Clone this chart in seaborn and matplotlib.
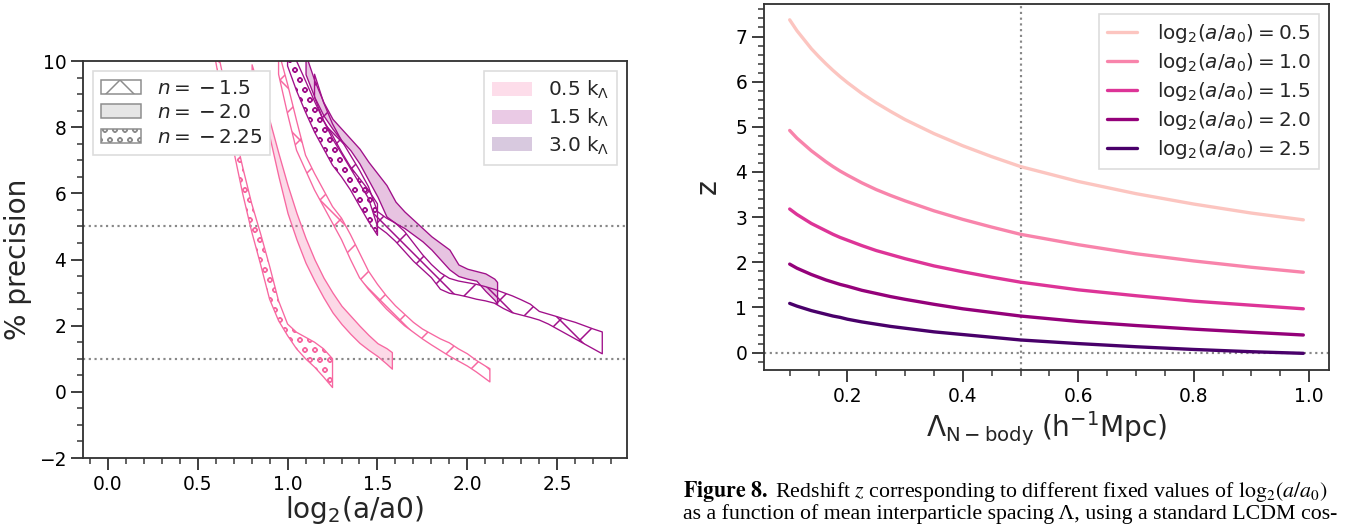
import numpy as np
import pandas as pd
import matplotlib
matplotlib.use("Agg")
import matplotlib.pyplot as plt
import seaborn as sns
from matplotlib.patches import Patch
from matplotlib.colors import to_rgba
from matplotlib.ticker import MultipleLocator

# ---------------- data: left panel (precision bands) ----------------
# k = 0.5 k_Lambda, n = -2.25
x_k05_n225 = [0.60, 0.65, 0.70, 0.75, 0.80, 0.85, 0.90, 0.95, 1.00, 1.05, 1.10, 1.15, 1.20, 1.25]
lo_k05_n225 = [10.0, 8.5, 7.3, 6.0, 4.85, 3.85, 2.8, 2.15, 1.7, 1.3, 1.0, 0.75, 0.45, 0.13]
hi_k05_n225 = [10.6, 9.3, 8.0, 6.8, 5.7, 4.78, 3.8, 2.75, 2.05, 1.8, 1.65, 1.5, 1.3, 1.0]
# k = 0.5 k_Lambda, n = -2.0
x_k05_n20 = [0.80, 0.85, 0.90, 0.95, 1.00, 1.05, 1.10, 1.15, 1.20, 1.25, 1.30, 1.35, 1.40, 1.45, 1.50, 1.55, 1.58]
lo_k05_n20 = [9.4, 8.5, 7.7, 6.5, 5.4, 4.6, 3.9, 3.35, 2.85, 2.4, 2.05, 1.75, 1.48, 1.27, 1.08, 0.85, 0.70]
hi_k05_n20 = [9.9, 9.0, 8.2, 7.2, 6.25, 5.4, 4.65, 4.0, 3.45, 3.0, 2.6, 2.3, 2.0, 1.72, 1.47, 1.32, 1.2]
# k = 0.5 k_Lambda, n = -1.5
x_k05_n15 = [0.95, 1.00, 1.05, 1.10, 1.15, 1.20, 1.25, 1.30, 1.35, 1.40, 1.45, 1.50, 1.55,
             1.60, 1.65, 1.70, 1.75, 1.80, 1.85, 1.90, 1.95, 2.00, 2.05, 2.10, 2.125]
lo_k05_n15 = [9.6, 8.4, 7.3, 6.7, 6.1, 5.6, 5.1, 4.6, 4.0, 3.45, 3.1, 2.8, 2.5,
              2.25, 2.0, 1.8, 1.6, 1.42, 1.25, 1.08, 0.93, 0.78, 0.6, 0.4, 0.3]
hi_k05_n15 = [10.3, 9.3, 8.2, 7.15, 6.6, 6.1, 5.6, 5.25, 4.75, 4.2, 3.65, 3.25, 2.9,
              2.6, 2.35, 2.1, 1.9, 1.75, 1.6, 1.48, 1.3, 1.15, 0.95, 0.78, 0.7]
# k = 1.5 k_Lambda, n = -2.25
x_k15_n225 = [1.00, 1.05, 1.10, 1.15, 1.20, 1.25, 1.30, 1.35, 1.40, 1.45, 1.50]
lo_k15_n225 = [9.85, 9.1, 8.45, 7.85, 7.35, 6.85, 6.5, 6.1, 5.62, 5.15, 4.73]
hi_k15_n225 = [10.7, 10.0, 9.4, 8.78, 8.2, 7.75, 7.25, 6.8, 6.45, 6.1, 5.68]
# k = 1.5 k_Lambda, n = -2.0
x_k15_n20 = [1.10, 1.15, 1.20, 1.25, 1.30, 1.35, 1.40, 1.45, 1.50, 1.55, 1.60, 1.65,
             1.70, 1.75, 1.80, 1.85, 1.90, 1.95, 2.00, 2.05, 2.10, 2.15, 2.165]
lo_k15_n20 = [9.6, 8.9, 8.35, 7.95, 7.6, 7.3, 6.9, 6.4, 5.9, 5.3, 5.1, 4.95,
              4.75, 4.55, 4.3, 4.0, 3.7, 3.5, 3.42, 3.36, 3.05, 2.78, 2.66]
hi_k15_n20 = [10.2, 9.4, 8.75, 8.25, 7.95, 7.65, 7.35, 6.95, 6.6, 6.25, 5.75, 5.45,
              5.2, 4.95, 4.7, 4.5, 4.3, 3.85, 3.72, 3.65, 3.58, 3.42, 3.32]
# k = 1.5 k_Lambda, n = -1.5
x_k15_n15 = [1.15, 1.20, 1.25, 1.30, 1.35, 1.40, 1.45, 1.50, 1.55, 1.60, 1.65, 1.70, 1.75,
             1.80, 1.85, 1.90, 1.95, 2.00, 2.05, 2.10, 2.15, 2.20, 2.25, 2.30, 2.35, 2.40,
             2.45, 2.50, 2.55, 2.60, 2.65, 2.70, 2.75]
lo_k15_n15 = [8.9, 8.2, 7.65, 7.2, 6.75, 6.3, 5.85, 5.0, 4.8, 4.55, 4.25, 3.95, 3.7,
              3.45, 3.1, 2.98, 2.93, 2.87, 2.8, 2.75, 2.68, 2.52, 2.39, 2.32, 2.25, 2.17,
              2.05, 1.9, 1.75, 1.6, 1.45, 1.3, 1.15]
hi_k15_n15 = [9.6, 8.75, 8.1, 7.6, 7.15, 6.7, 6.2, 5.45, 5.25, 5.1, 4.85, 4.5, 4.15,
              3.85, 3.6, 3.43, 3.35, 3.3, 3.25, 3.18, 3.1, 3.0, 2.9, 2.78, 2.65, 2.43,
              2.35, 2.27, 2.18, 2.1, 2.0, 1.9, 1.81]

k_labels = [r"0.5 k$_\Lambda$", r"1.5 k$_\Lambda$", r"3.0 k$_\Lambda$"]
n_labels = [r"$n =\:-\,1.5$", r"$n =\:-\,2.0$", r"$n =\:-\,2.25$"]
precision_levels = [5, 1]

# ---------------- data: right panel (redshift curves) ----------------
spacing = [0.10, 0.1125, 0.125, 0.1375, 0.15, 0.1625, 0.175, 0.1875, 0.20, 0.225, 0.25,
           0.275, 0.30, 0.35, 0.40, 0.45, 0.50, 0.60, 0.70, 0.80, 0.90, 0.99]
z_05 = [7.37, 7.13, 6.93, 6.73, 6.56, 6.40, 6.25, 6.11, 5.98, 5.74, 5.53,
        5.34, 5.16, 4.85, 4.58, 4.34, 4.12, 3.79, 3.52, 3.29, 3.09, 2.94]
z_10 = [4.92, 4.75, 4.61, 4.47, 4.35, 4.23, 4.12, 4.02, 3.93, 3.76, 3.61,
        3.48, 3.36, 3.14, 2.95, 2.78, 2.62, 2.39, 2.19, 2.03, 1.89, 1.78]
z_15 = [3.18, 3.06, 2.96, 2.86, 2.78, 2.70, 2.62, 2.55, 2.49, 2.37, 2.26,
        2.17, 2.08, 1.92, 1.79, 1.67, 1.56, 1.39, 1.26, 1.14, 1.05, 0.97]
z_20 = [1.96, 1.87, 1.80, 1.73, 1.67, 1.61, 1.56, 1.51, 1.47, 1.38, 1.31,
        1.24, 1.18, 1.07, 0.97, 0.89, 0.81, 0.69, 0.60, 0.52, 0.45, 0.39]
z_25 = [1.09, 1.03, 0.98, 0.93, 0.89, 0.85, 0.81, 0.78, 0.74, 0.68, 0.63,
        0.58, 0.54, 0.46, 0.40, 0.34, 0.28, 0.20, 0.13, 0.07, 0.02, -0.016]
log2_values = ["0.5", "1.0", "1.5", "2.0", "2.5"]

# ---------------- styling ----------------
sns.set_theme(style="ticks")
plt.rcParams["font.family"] = ["DejaVu Sans"]
plt.rcParams["hatch.linewidth"] = 0.9
plt.rcParams["axes.edgecolor"] = "#333333"
plt.rcParams["axes.linewidth"] = 1.1
plt.rcParams["xtick.color"] = "#333333"
plt.rcParams["ytick.color"] = "#333333"
plt.rcParams["xtick.labelcolor"] = "black"
plt.rcParams["ytick.labelcolor"] = "black"

DPI = 120
W, H = 1347, 526
fig = plt.figure(figsize=(W / DPI, H / DPI), dpi=DPI)
fig.patch.set_facecolor("white")

axL = fig.add_axes([83 / W, 1 - 458 / H, 544 / W, 397 / H])
axR = fig.add_axes([764 / W, 1 - 370 / H, 565 / W, 366 / H])

TICK = 11.2
LABEL = 16.8
k_colors = ["#f768a1", "#a0108a", "#4f0a6e"]
line_colors = ["#fcc5c0", "#f884ab", "#dd3497", "#94017a", "#49006a"]

# ---------------- left panel ----------------
bands = [
    (x_k05_n225, lo_k05_n225, hi_k05_n225, k_colors[0], "oo"),
    (x_k05_n20, lo_k05_n20, hi_k05_n20, k_colors[0], None),
    (x_k05_n15, lo_k05_n15, hi_k05_n15, k_colors[0], "x"),
    (x_k15_n225, lo_k15_n225, hi_k15_n225, k_colors[1], "oo"),
    (x_k15_n20, lo_k15_n20, hi_k15_n20, k_colors[1], None),
    (x_k15_n15, lo_k15_n15, hi_k15_n15, k_colors[1], "x"),
]
for bx, blo, bhi, col, hatch in bands:
    if hatch is None:
        axL.fill_between(bx, blo, bhi, facecolor=to_rgba(col, 0.25), edgecolor=col, linewidth=0.8)
    else:
        axL.fill_between(bx, blo, bhi, facecolor="none", edgecolor=col, hatch=hatch, linewidth=0.8)

for lvl in precision_levels:
    axL.axhline(lvl, color="#888888", ls=":", lw=1.3, zorder=0.5)

axL.set_xlim(-0.1375, 2.8875)
axL.set_ylim(-2, 10)
axL.xaxis.set_major_locator(MultipleLocator(0.5))
axL.xaxis.set_minor_locator(MultipleLocator(0.1))
axL.yaxis.set_major_locator(MultipleLocator(2))
axL.yaxis.set_minor_locator(MultipleLocator(0.5))
axL.set_xlabel(r"log$_2$(a/a0)", fontsize=LABEL, labelpad=0)
axL.set_ylabel("% precision", fontsize=LABEL, labelpad=4)

LEGF = 12
n_handles = [
    Patch(facecolor="white", edgecolor="0.55", hatch="x", linewidth=0.9),
    Patch(facecolor="#e6e6e6", edgecolor="0.55", linewidth=0.9),
    Patch(facecolor="white", edgecolor="0.55", hatch="oo", linewidth=0.9),
]
leg1 = axL.legend(n_handles, n_labels, loc="upper left", fontsize=LEGF,
                  handlelength=2.0, handleheight=0.7, handletextpad=0.8,
                  labelspacing=0.27, borderpad=0.4, borderaxespad=0.5,
                  frameon=True, framealpha=1, edgecolor="#dddddd", fancybox=False)
axL.add_artist(leg1)
k_handles = [Patch(facecolor=to_rgba(c, 0.22), edgecolor="none") for c in k_colors]
axL.legend(k_handles, k_labels, loc="upper right", fontsize=LEGF,
           handlelength=2.0, handleheight=0.7, handletextpad=0.8,
           labelspacing=0.27, borderpad=0.4, borderaxespad=0.5,
           frameon=True, framealpha=1, edgecolor="#dddddd", fancybox=False)

# ---------------- right panel ----------------
curve_vals = [z_05, z_10, z_15, z_20, z_25]
labels = [r"$\mathrm{log}_2(a/a_0) = %s$" % v for v in log2_values]
df = pd.concat([
    pd.DataFrame({"spacing": spacing, "z": vals, "label": lab})
    for vals, lab in zip(curve_vals, labels)
], ignore_index=True)
sns.lineplot(data=df, x="spacing", y="z", hue="label", hue_order=labels,
             palette=dict(zip(labels, line_colors)), linewidth=2.0,
             errorbar=None, sort=True, ax=axR)
axR.axvline(0.5, color="#888888", ls=":", lw=1.3, zorder=0.5)
axR.axhline(0.0, color="#888888", ls=":", lw=1.3, zorder=0.5)
axR.set_xlim(0.0555, 1.0345)
axR.set_ylim(-0.385, 7.72)
axR.xaxis.set_major_locator(MultipleLocator(0.2))
axR.xaxis.set_minor_locator(MultipleLocator(0.05))
axR.yaxis.set_major_locator(MultipleLocator(1))
axR.yaxis.set_minor_locator(MultipleLocator(0.2))
axR.set_xlabel(r"$\Lambda_{\rm N-body}\;(\rm h^{-1}Mpc)$", fontsize=LABEL, labelpad=2)
axR.set_ylabel("z", fontsize=LABEL, labelpad=8)
h, l = axR.get_legend_handles_labels()
axR.legend(h, l, loc="upper right", fontsize=12, handlelength=1.5,
           handletextpad=1.0, labelspacing=0.3, borderpad=0.4, borderaxespad=0.5,
           frameon=True, framealpha=1, edgecolor="#dddddd", fancybox=False)

for ax in (axL, axR):
    ax.tick_params(which="major", direction="out", length=7, width=1.1, labelsize=TICK, pad=3)
    ax.tick_params(which="minor", direction="out", length=3.5, width=0.9)
    for s in ax.spines.values():
        s.set_visible(True)

# ---------------- caption ----------------
cap_kw = dict(fontsize=13.1, family="Liberation Serif", math_fontfamily="stix", color="black")
fig.text(683 / W, 1 - 497 / H,
         r"$\mathbf{Figure\ 8.}$ Redshift $z$ corresponding to different fixed values of $\mathrm{log}_2(a/a_0)$",
         **cap_kw)
fig.text(683 / W, 1 - 519 / H,
         "as a function of mean interparticle spacing \u039b, using a standard LCDM cos-",
         **cap_kw)

fig.savefig("out.png", dpi=DPI, facecolor="white")
